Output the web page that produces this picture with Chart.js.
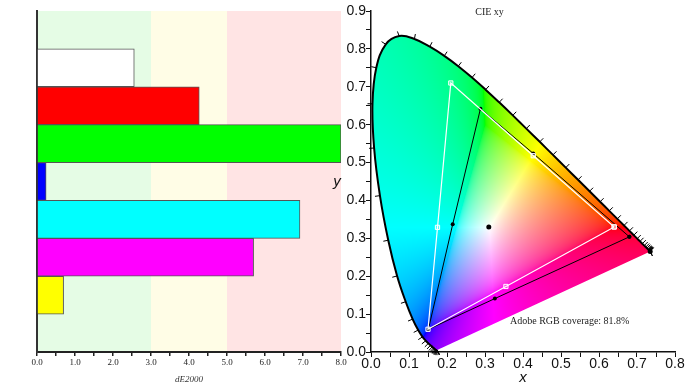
<!DOCTYPE html>
<html>
<head>
<meta charset="utf-8">
<script src="https://cdn.jsdelivr.net/npm/chart.js@4.4.1/dist/chart.umd.min.js"></script>
<style>
  body { margin: 0; background: #fff; }
  #wrap { position: relative; width: 693px; height: 390px; }
  canvas { position: absolute; top: 0; }
  #deChart { left: 0; }
  #cieChart { left: 330px; }
</style>
</head>
<body>
<div id="wrap">
  <canvas id="deChart" width="350" height="390"></canvas>
  <canvas id="cieChart" width="363" height="390"></canvas>
</div>
<script>
// ---------- left chart data (dE2000 per patch) ----------
const patchNames = ['', 'White', 'Red', 'Green', 'Blue', 'Cyan', 'Magenta', 'Yellow', ''];
const patchDeltaE = [null, 2.56, 4.27, 8.0, 0.24, 6.92, 5.70, 0.70, null];
const patchColors = ['#ffffff', '#ffffff', '#ff0000', '#00ff00', '#0000ff', '#00ffff', '#ff00ff', '#ffff00', '#ffffff'];
const deTickLabels = ['0.0', '1.0', '2.0', '3.0', '4.0', '5.0', '6.0', '7.0', '8.0'];
const bandEdges = [0, 3, 5, 8];
const bandColors = ['#e5fce5', '#fffde6', '#ffe4e4'];

// ---------- right chart data (CIE 1931 xy) ----------
// spectral locus, 380 - 700 nm every 5 nm
const locusX = [0.1741, 0.1740, 0.1738, 0.1736, 0.1733, 0.1730, 0.1726, 0.1721, 0.1714, 0.1703,
  0.1689, 0.1669, 0.1644, 0.1611, 0.1566, 0.1510, 0.1440, 0.1355, 0.1241, 0.1096,
  0.0913, 0.0687, 0.0454, 0.0235, 0.0082, 0.0039, 0.0139, 0.0389, 0.0743, 0.1142,
  0.1547, 0.1929, 0.2296, 0.2658, 0.3016, 0.3373, 0.3731, 0.4087, 0.4441, 0.4788,
  0.5125, 0.5448, 0.5752, 0.6029, 0.6270, 0.6482, 0.6658, 0.6801, 0.6915, 0.7006,
  0.7079, 0.7140, 0.7190, 0.7230, 0.7260, 0.7283, 0.7300, 0.7311, 0.7320, 0.7327,
  0.7334, 0.7340, 0.7344, 0.7346, 0.7347];
const locusY = [0.0050, 0.0050, 0.0049, 0.0049, 0.0048, 0.0048, 0.0048, 0.0048, 0.0051, 0.0058,
  0.0069, 0.0086, 0.0109, 0.0138, 0.0177, 0.0227, 0.0297, 0.0399, 0.0578, 0.0868,
  0.1327, 0.2007, 0.2950, 0.4127, 0.5384, 0.6548, 0.7502, 0.8120, 0.8338, 0.8262,
  0.8059, 0.7816, 0.7543, 0.7243, 0.6923, 0.6589, 0.6245, 0.5896, 0.5547, 0.5202,
  0.4866, 0.4544, 0.4242, 0.3965, 0.3725, 0.3514, 0.3340, 0.3197, 0.3083, 0.2993,
  0.2920, 0.2859, 0.2809, 0.2770, 0.2740, 0.2717, 0.2700, 0.2689, 0.2680, 0.2673,
  0.2666, 0.2660, 0.2656, 0.2654, 0.2653];

// gamut corners, order R - Y - G - C - B - M - R
const refX = [0.640, 0.427, 0.210, 0.175, 0.150, 0.355, 0.640]; // Adobe RGB
const refY = [0.330, 0.518, 0.710, 0.329, 0.060, 0.173, 0.330];
const measX = [0.680, 0.427, 0.288, 0.215, 0.151, 0.326, 0.680]; // measured
const measY = [0.304, 0.524, 0.642, 0.337, 0.060, 0.141, 0.304];
const whiteX = [0.310];
const whiteY = [0.330];

const xyXTickLabels = ['0.0', '0.1', '0.2', '0.3', '0.4', '0.5', '0.6', '0.7', '0.8'];
const xyYTickLabels = ['0.0', '0.1', '0.2', '0.3', '0.4', '0.5', '0.6', '0.7', '0.8', '0.9'];

const cieTexts = ['CIE xy', 'Adobe RGB coverage: 81.8%'];
const cieTextX = [0.312, 0.523];
const cieTextY = [0.896, 0.080];

function toPoints(xs, ys) {
    return xs.map((x, i) => ({ x: x, y: ys[i] }));
}

// coloured bands behind the bars
const bandPlugin = {
    id: 'bands',
    beforeDraw(chart) {
        const { ctx, chartArea, scales } = chart;
        ctx.save();
        bandColors.forEach((c, i) => {
            const x0 = scales.x.getPixelForValue(bandEdges[i]);
            const x1 = scales.x.getPixelForValue(bandEdges[i + 1]);
            ctx.fillStyle = c;
            ctx.fillRect(x0, chartArea.top, x1 - x0, chartArea.bottom - chartArea.top);
        });
        ctx.restore();
    }
};

new Chart(document.getElementById('deChart'), {
    type: 'bar',
    data: {
        labels: patchNames,
        datasets: [{
            data: patchDeltaE,
            backgroundColor: patchColors,
            borderColor: '#555',
            borderWidth: 1,
            barPercentage: 1,
            categoryPercentage: 1
        }]
    },
    options: {
        indexAxis: 'y',
        responsive: false,
        animation: false,
        layout: { padding: { left: 37, top: 11, right: 9, bottom: 0 } },
        plugins: { legend: { display: false }, tooltip: { enabled: false } },
        scales: {
            x: {
                min: 0,
                max: 8,
                ticks: {
                    stepSize: 0.5,
                    autoSkip: false,
                    maxRotation: 0,
                    padding: 1,
                    color: '#222',
                    font: { family: 'Liberation Serif', size: 9 },
                    callback: (v, i) => i % 2 === 0 ? deTickLabels[i / 2] : ''
                },
                grid: { drawOnChartArea: false, tickLength: 4, color: '#222', lineWidth: 1.5 },
                border: { color: '#222', width: 2 },
                title: {
                    display: true,
                    text: 'dE2000',
                    color: '#333',
                    font: { family: 'Liberation Serif', size: 9, style: 'italic' },
                    padding: { top: 0, bottom: 5 }
                },
                afterFit: s => { s.height = 38; }
            },
            y: {
                ticks: { display: false },
                grid: { display: false },
                border: { color: '#333', width: 2 },
                afterFit: s => { s.width = 0; }
            }
        }
    },
    plugins: [bandPlugin]
});

// ---------- chromaticity colour fill ----------
function gammaEncode(c) {
    return c <= 0.0031308 ? 12.92 * c : 1.055 * Math.pow(c, 1 / 2.4) - 0.055;
}

function xyToRgb(x, y) {
    const X = x / y, Z = (1 - x - y) / y;
    let r = 3.2406 * X - 1.5372 - 0.4986 * Z;
    let g = -0.9689 * X + 1.8758 + 0.0415 * Z;
    let b = 0.0557 * X - 0.2040 + 1.0570 * Z;
    const m = Math.min(r, g, b, 0); // desaturate out of gamut colours
    r -= m; g -= m; b -= m;
    const mx = Math.max(r, g, b);
    return [r, g, b].map(c => Math.round(255 * gammaEncode(c / mx)));
}

function buildCieImage(chart) {
    const { chartArea, scales } = chart;
    const w = Math.ceil(chartArea.right - chartArea.left);
    const h = Math.ceil(chartArea.bottom - chartArea.top);
    const off = document.createElement('canvas');
    off.width = w;
    off.height = h;
    const octx = off.getContext('2d');
    const img = octx.createImageData(w, h);
    for (let j = 0; j < h; j++) {
        const y = scales.y.getValueForPixel(chartArea.top + j + 0.5);
        if (y <= 0.001) continue;
        for (let i = 0; i < w; i++) {
            const x = scales.x.getValueForPixel(chartArea.left + i + 0.5);
            const rgb = xyToRgb(x, y);
            const k = (j * w + i) * 4;
            img.data[k] = rgb[0];
            img.data[k + 1] = rgb[1];
            img.data[k + 2] = rgb[2];
            img.data[k + 3] = 255;
        }
    }
    octx.putImageData(img, 0, 0);
    return off;
}

const cieFillPlugin = {
    id: 'cieFill',
    beforeDatasetsDraw(chart) {
        const { ctx, chartArea } = chart;
        if (!chart.$cieImage) chart.$cieImage = buildCieImage(chart);
        // follow the same smoothed curve as the locus line
        const meta = chart.getDatasetMeta(0);
        meta.dataset.updateControlPoints(chartArea, 'x');
        const pts = meta.data;
        ctx.save();
        ctx.beginPath();
        ctx.moveTo(pts[0].x, pts[0].y);
        for (let i = 1; i < pts.length; i++) {
            const p = pts[i - 1], c = pts[i];
            if (p.cp2x !== undefined && c.cp1x !== undefined) {
                ctx.bezierCurveTo(p.cp2x, p.cp2y, c.cp1x, c.cp1y, c.x, c.y);
            } else {
                ctx.lineTo(c.x, c.y);
            }
        }
        ctx.closePath(); // purple line
        ctx.clip();
        ctx.drawImage(chart.$cieImage, chartArea.left, chartArea.top);
        ctx.restore();
    },
    afterDatasetsDraw(chart) {
        const { ctx, scales } = chart;
        const px = locusX.map(x => scales.x.getPixelForValue(x));
        const py = locusY.map(y => scales.y.getPixelForValue(y));
        const wx = scales.x.getPixelForValue(whiteX[0]);
        const wy = scales.y.getPixelForValue(whiteY[0]);
        ctx.save();
        ctx.strokeStyle = '#000';
        ctx.lineWidth = 1;
        // wavelength tick marks every 5 nm
        for (let i = 0; i < px.length; i++) {
            const a = Math.max(0, i - 2), b = Math.min(px.length - 1, i + 2);
            let tx = px[b] - px[a], ty = py[b] - py[a];
            let len = Math.hypot(tx, ty);
            if (len < 0.5) { tx = 1; ty = -0.5; len = Math.hypot(tx, ty); }
            let nx = ty / len, ny = -tx / len;
            if ((px[i] - wx) * nx + (py[i] - wy) * ny < 0) { nx = -nx; ny = -ny; }
            ctx.beginPath();
            ctx.moveTo(px[i], py[i]);
            ctx.lineTo(px[i] + nx * 5, py[i] + ny * 5);
            ctx.stroke();
        }
        // labels
        ctx.fillStyle = '#222';
        ctx.font = '10px "Liberation Serif"';
        ctx.textAlign = 'center';
        ctx.textBaseline = 'middle';
        cieTexts.forEach((t, i) => {
            ctx.fillText(t, scales.x.getPixelForValue(cieTextX[i]), scales.y.getPixelForValue(cieTextY[i]));
        });
        // upright y axis title
        ctx.fillStyle = '#111';
        ctx.font = 'italic 15px "Liberation Sans"';
        ctx.fillText('y', scales.y.left + 7, (chart.chartArea.top + chart.chartArea.bottom) / 2);
        ctx.restore();
    }
};

const axisTickFont = { family: 'Liberation Sans', size: 14, lineHeight: 1 };

new Chart(document.getElementById('cieChart'), {
    type: 'scatter',
    data: {
        datasets: [
            {
                label: 'Spectral locus',
                data: toPoints(locusX, locusY),
                showLine: true,
                tension: 0.4,
                borderColor: '#000',
                borderWidth: 2,
                pointRadius: c => c.dataIndex === locusX.length - 1 ? 2.5 : 0,
                pointBackgroundColor: '#000',
                pointBorderWidth: 0
            },
            {
                label: 'Adobe RGB',
                data: toPoints(refX, refY),
                showLine: true,
                borderColor: '#fff',
                borderWidth: 1.2,
                pointStyle: 'rect',
                pointRadius: 3,
                pointBorderColor: '#fff',
                pointBackgroundColor: 'rgba(255,255,255,0.25)',
                pointBorderWidth: 1
            },
            {
                label: 'Measured',
                data: toPoints(measX, measY),
                showLine: true,
                borderColor: '#000',
                borderWidth: 1,
                pointRadius: 2,
                pointBackgroundColor: '#000',
                pointBorderWidth: 0
            },
            {
                label: 'White point',
                data: toPoints(whiteX, whiteY),
                pointRadius: 2.5,
                pointBackgroundColor: '#000',
                pointBorderWidth: 0
            }
        ]
    },
    options: {
        responsive: false,
        animation: false,
        layout: { padding: { left: 0, top: 11, right: 18, bottom: 0 } },
        plugins: { legend: { display: false }, tooltip: { enabled: false } },
        scales: {
            x: {
                type: 'linear',
                min: 0,
                max: 0.8,
                ticks: {
                    stepSize: 0.05,
                    autoSkip: false,
                    maxRotation: 0,
                    padding: 0,
                    color: '#111',
                    font: axisTickFont,
                    callback: (v, i) => i % 2 === 0 ? xyXTickLabels[i / 2] : ''
                },
                grid: { drawOnChartArea: false, tickLength: 5, color: '#111', lineWidth: 1 },
                border: { color: '#111', width: 1.5 },
                title: {
                    display: true,
                    text: 'x',
                    color: '#111',
                    font: { family: 'Liberation Sans', size: 15, style: 'italic' },
                    padding: { top: 0, bottom: 3 }
                },
                afterFit: s => { s.height = 38; }
            },
            y: {
                type: 'linear',
                min: 0,
                max: 0.9,
                ticks: {
                    stepSize: 0.05,
                    autoSkip: false,
                    padding: 0,
                    color: '#111',
                    font: axisTickFont,
                    callback: (v, i) => i % 2 === 0 ? xyYTickLabels[i / 2] : ''
                },
                grid: { drawOnChartArea: false, tickLength: 5, color: '#111', lineWidth: 1 },
                border: { color: '#111', width: 1.5 },
                afterFit: s => { s.width = 41; }
            }
        }
    },
    plugins: [cieFillPlugin]
});
</script>
</body>
</html>
